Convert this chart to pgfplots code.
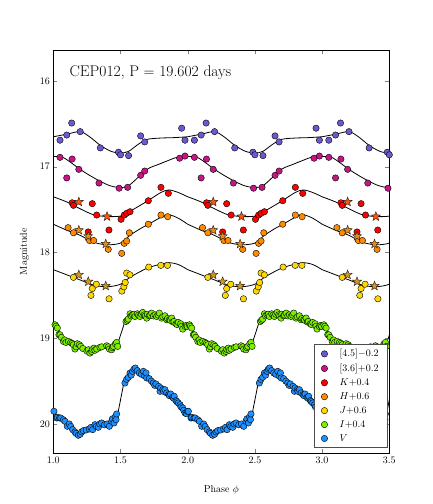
\documentclass[border=0pt]{standalone}
\usepackage{pgfplots}
\usepackage{pgfplotstable}
\pgfplotsset{compat=1.18}

\definecolor{cA}{RGB}{106,90,205}
\definecolor{cB}{RGB}{199,21,133}
\definecolor{cK}{RGB}{255,0,0}
\definecolor{cH}{RGB}{255,140,0}
\definecolor{cJ}{RGB}{255,215,0}
\definecolor{cI}{RGB}{124,240,0}
\definecolor{cV}{RGB}{30,144,255}
\definecolor{sK}{RGB}{255,85,10}
\definecolor{sH}{RGB}{235,140,20}
\definecolor{sJ}{RGB}{205,150,40}

% filled five-pointed star
\pgfdeclareplotmark{fstar}{%
  \pgfpathmoveto{\pgfpointpolar{90}{\pgfplotmarksize}}%
  \pgfpathlineto{\pgfpointpolar{126}{0.42\pgfplotmarksize}}%
  \pgfpathlineto{\pgfpointpolar{162}{\pgfplotmarksize}}%
  \pgfpathlineto{\pgfpointpolar{198}{0.42\pgfplotmarksize}}%
  \pgfpathlineto{\pgfpointpolar{234}{\pgfplotmarksize}}%
  \pgfpathlineto{\pgfpointpolar{270}{0.42\pgfplotmarksize}}%
  \pgfpathlineto{\pgfpointpolar{306}{\pgfplotmarksize}}%
  \pgfpathlineto{\pgfpointpolar{342}{0.42\pgfplotmarksize}}%
  \pgfpathlineto{\pgfpointpolar{18}{\pgfplotmarksize}}%
  \pgfpathlineto{\pgfpointpolar{54}{0.42\pgfplotmarksize}}%
  \pgfpathclose
  \pgfusepathqfillstroke}

% ---- template curves (phase 0..1) ----
\pgfplotstableread{
p m
0.00 16.65
0.10 16.62
0.20 16.59
0.27 16.65
0.35 16.75
0.43 16.82
0.50 16.84
0.56 16.82
0.63 16.74
0.70 16.68
0.80 16.665
0.90 16.66
1.00 16.65
}\Acurve
\pgfplotstableread{
p m
0.00 16.88
0.07 16.89
0.13 16.95
0.20 17.03
0.27 17.10
0.35 17.17
0.42 17.22
0.48 17.24
0.55 17.23
0.62 17.14
0.67 17.06
0.72 17.01
0.77 16.98
0.85 16.93
0.92 16.89
1.00 16.88
}\Bcurve
\pgfplotstableread{
p m
0.00 17.35
0.10 17.41
0.20 17.49
0.30 17.56
0.40 17.58
0.50 17.575
0.57 17.52
0.70 17.40
0.80 17.30
0.86 17.27
0.93 17.30
1.00 17.35
}\Kcurve
\pgfplotstableread{
p m
0.00 17.67
0.10 17.74
0.20 17.80
0.30 17.88
0.40 17.91
0.50 17.89
0.57 17.80
0.65 17.72
0.72 17.66
0.80 17.59
0.86 17.56
0.93 17.60
1.00 17.67
}\Hcurve
\pgfplotstableread{
p m
0.00 18.20
0.10 18.26
0.20 18.32
0.30 18.38
0.40 18.40
0.50 18.37
0.57 18.29
0.65 18.22
0.72 18.17
0.85 18.12
0.93 18.14
1.00 18.20
}\Jcurve
\pgfplotstableread{
p m
0.00 18.84
0.05 18.95
0.10 19.03
0.15 19.08
0.20 19.11
0.26 19.13
0.35 19.12
0.42 19.11
0.47 19.08
0.48 19.06
0.53 18.82
0.56 18.76
0.60 18.73
0.65 18.72
0.70 18.72
0.75 18.73
0.80 18.75
0.85 18.77
0.90 18.80
0.95 18.83
1.00 18.84
}\Icurve
\pgfplotstableread{
p m
0.00 19.87
0.05 19.93
0.10 19.99
0.15 20.06
0.19 20.11
0.22 20.08
0.30 20.04
0.38 20.01
0.44 19.98
0.47 19.93
0.48 19.88
0.52 19.56
0.55 19.46
0.58 19.40
0.61 19.36
0.65 19.38
0.70 19.44
0.75 19.51
0.80 19.58
0.85 19.64
0.90 19.70
0.95 19.78
1.00 19.87
}\Vcurve

% ---- observations (phase, mag) ----
\pgfplotstableread{
p m
0.05 16.69
0.10 16.63
0.137 16.49
0.20 16.59
0.35 16.78
0.485 16.83
0.50 16.86
0.56 16.87
0.65 16.64
0.68 16.71
0.955 16.55
0.98 16.69
}\Apts
\pgfplotstableread{
p m
0.05 16.89
0.10 17.13
0.14 16.91
0.19 17.03
0.34 17.19
0.49 17.25
0.553 17.24
0.65 17.10
0.68 17.05
0.94 16.90
0.98 16.875
}\Bpts
\pgfplotstableread{
p m
0.14 17.42
0.15 17.45
0.26 17.76
0.29 17.43
0.323 17.563
0.414 17.738
0.504 17.613
0.528 17.563
0.546 17.543
0.571 17.524
0.707 17.396
0.801 17.24
0.856 17.31
}\Kpts
\pgfplotstableread{
p m
0.11 17.71
0.15 17.77
0.27 17.86
0.30 17.86
0.409 17.963
0.509 18.01
0.528 17.893
0.546 17.866
0.566 17.77
0.707 17.67
0.801 17.563
0.851 17.582
}\Hpts
\pgfplotstableread{
p m
0.15 18.29
0.28 18.50
0.29 18.42
0.32 18.37
0.415 18.54
0.51 18.45
0.525 18.40
0.535 18.35
0.546 18.24
0.57 18.26
0.71 18.17
0.80 18.15
0.85 18.15
}\Jpts
\pgfplotstableread{
p m
0.013 18.843
0.020 18.86
0.030 18.881
0.042 18.959
0.050 18.96
0.060 18.99
0.075 19.037
0.085 19.02
0.094 19.049
0.112 19.037
0.129 19.049
0.140 19.06
0.149 19.076
0.161 19.126
0.170 19.10
0.179 19.064
0.194 19.076
0.204 19.095
0.220 19.12
0.250 19.15
0.261 19.134
0.273 19.173
0.285 19.154
0.290 19.13
0.303 19.115
0.310 19.14
0.323 19.126
0.347 19.107
0.360 19.10
0.397 19.088
0.410 19.10
0.417 19.126
0.434 19.134
0.440 19.11
0.447 19.095
0.462 19.064
0.471 19.049
0.479 19.095
0.541 18.804
0.550 18.79
0.558 18.777
0.571 18.715
0.580 18.74
0.590 18.727
0.600 18.72
0.608 18.746
0.625 18.715
0.635 18.73
0.645 18.746
0.655 18.72
0.665 18.699
0.677 18.727
0.685 18.74
0.695 18.765
0.700 18.72
0.714 18.738
0.720 18.73
0.732 18.707
0.745 18.74
0.757 18.727
0.769 18.746
0.780 18.73
0.789 18.707
0.806 18.765
0.815 18.75
0.831 18.738
0.844 18.785
0.850 18.77
0.863 18.785
0.870 18.79
0.881 18.765
0.890 18.81
0.898 18.804
0.913 18.831
0.920 18.84
0.930 18.816
0.948 18.831
0.955 18.86
0.963 18.893
0.980 18.862
0.990 18.85
0.997 18.862
}\Ipts
\pgfplotstableread{
p m
0.005 19.852
0.025 19.930
0.030 19.922
0.047 19.930
0.055 19.930
0.075 19.95
0.087 19.969
0.104 20.027
0.119 20.000
0.130 20.03
0.144 20.066
0.161 20.093
0.170 20.11
0.186 20.132
0.200 20.12
0.211 20.093
0.223 20.078
0.245 20.07
0.268 20.058
0.280 20.04
0.293 20.066
0.310 20.008
0.320 20.03
0.335 20.039
0.345 20.00
0.360 19.988
0.380 20.01
0.400 20.00
0.417 20.027
0.434 19.969
0.440 19.94
0.452 19.988
0.460 19.92
0.467 19.949
0.471 19.883
0.533 19.522
0.545 19.48
0.558 19.456
0.571 19.405
0.580 19.43
0.590 19.386
0.600 19.36
0.610 19.347
0.625 19.378
0.640 19.405
0.655 19.42
0.670 19.386
0.680 19.44
0.690 19.405
0.695 19.463
0.714 19.471
0.730 19.50
0.744 19.522
0.755 19.55
0.764 19.533
0.784 19.561
0.794 19.619
0.799 19.580
0.815 19.60
0.820 19.62
0.831 19.600
0.844 19.638
0.858 19.658
0.865 19.67
0.873 19.650
0.888 19.689
0.895 19.70
0.900 19.677
0.913 19.728
0.920 19.74
0.930 19.755
0.943 19.775
0.950 19.80
0.963 19.813
0.970 19.84
0.980 19.872
0.990 19.88
0.997 19.852
}\Vpts
% single-epoch points drawn as stars
\pgfplotstableread{
p m
0.19 17.41
0.40 17.58
}\Kstar
\pgfplotstableread{
p m
0.19 17.74
0.26 17.81
0.39 17.90
}\Hstar
\pgfplotstableread{
p m
0.19 18.26
0.26 18.34
0.39 18.39
}\Jstar

\pgfplotsset{
  curve/.style={black, line width=0.8pt, forget plot},
  pts/.style={only marks, mark=*, mark size=3.2pt,
    mark options={fill=#1, draw=black, line width=0.4pt}, forget plot},
  stars/.style={only marks, mark=fstar, mark size=4.8pt,
    mark options={fill=#1, draw=black!80!brown, line width=0.4pt}, forget plot},
  legpt/.style={only marks, mark=*, mark size=3.2pt,
    mark options={fill=#1, draw=black, line width=0.4pt}},
}

\begin{document}
\begin{tikzpicture}
\begin{axis}[
    at={(0,0)}, anchor=south west,
    scale only axis,
    width=336pt, height=403.3pt,
    xmin=1.0, xmax=3.5,
    ymin=15.638, ymax=20.342,
    y dir=reverse,
    xtick={1.0,1.5,2.0,2.5,3.0,3.5},
    ytick={16,17,18,19,20},
    xticklabel style={/pgf/number format/.cd, fixed, fixed zerofill, precision=1},
    tick align=inside,
    major tick length=4pt,
    minor tick num=0,
    ticklabel style={font=\fontsize{10.4}{12}\selectfont},
    label style={font=\fontsize{10}{12}\selectfont},
    xlabel={Phase $\phi$},
    ylabel={Magnitude},
    xlabel style={yshift=-15pt},
    ylabel style={yshift=4pt},
    axis line style={line width=0.8pt},
    legend cell align=left,
    legend style={at={(0.996,0.013)}, anchor=south east,
      draw=black!70, line width=0.8pt,
      font=\fontsize{10}{12}\selectfont, row sep=1.6pt, column sep=10pt,
      inner xsep=7pt, inner ysep=3pt},
]

% model curves, repeated in phase
\pgfplotsinvokeforeach{1,2,3}{
  \addplot[curve, smooth] table[x expr=\thisrow{p}+#1, y=m] {\Acurve};
  \addplot[curve, smooth] table[x expr=\thisrow{p}+#1, y=m] {\Bcurve};
  \addplot[curve, smooth] table[x expr=\thisrow{p}+#1, y=m] {\Kcurve};
  \addplot[curve, smooth] table[x expr=\thisrow{p}+#1, y=m] {\Hcurve};
  \addplot[curve, smooth] table[x expr=\thisrow{p}+#1, y=m] {\Jcurve};
  \addplot[curve] table[x expr=\thisrow{p}+#1, y=m] {\Icurve};
  \addplot[curve] table[x expr=\thisrow{p}+#1, y=m] {\Vcurve};
}

% observations
\pgfplotsinvokeforeach{1,2,3}{
  \addplot[pts=cA] table[x expr=\thisrow{p}+#1, y=m] {\Apts};
  \addplot[pts=cB] table[x expr=\thisrow{p}+#1, y=m] {\Bpts};
  \addplot[pts=cH] table[x expr=\thisrow{p}+#1, y=m] {\Hpts};
  \addplot[pts=cK] table[x expr=\thisrow{p}+#1, y=m] {\Kpts};
  \addplot[pts=cJ] table[x expr=\thisrow{p}+#1, y=m] {\Jpts};
  \addplot[pts=cI] table[x expr=\thisrow{p}+#1, y=m] {\Ipts};
  \addplot[pts=cV] table[x expr=\thisrow{p}+#1, y=m] {\Vpts};
  \addplot[stars=sK] table[x expr=\thisrow{p}+#1, y=m] {\Kstar};
  \addplot[stars=sH] table[x expr=\thisrow{p}+#1, y=m] {\Hstar};
  \addplot[stars=sJ] table[x expr=\thisrow{p}+#1, y=m] {\Jstar};
}

\addlegendimage{legpt=cA}\addlegendentry{$[4.5]{-}0.2$}
\addlegendimage{legpt=cB}\addlegendentry{$[3.6]{+}0.2$}
\addlegendimage{legpt=cK}\addlegendentry{$K{+}0.4$}
\addlegendimage{legpt=cH}\addlegendentry{$H{+}0.6$}
\addlegendimage{legpt=cJ}\addlegendentry{$J{+}0.6$}
\addlegendimage{legpt=cI}\addlegendentry{$I{+}0.4$}
\addlegendimage{legpt=cV}\addlegendentry{$V$}

\node[anchor=west, font=\fontsize{15.5}{18}\selectfont] at (axis cs:1.095,15.9)
  {CEP012, P $=$ 19.602 days};
\end{axis}
\path[use as bounding box] (-53.3pt,-50.7pt) rectangle (378.7pt,453.3pt);
\end{tikzpicture}
\end{document}
